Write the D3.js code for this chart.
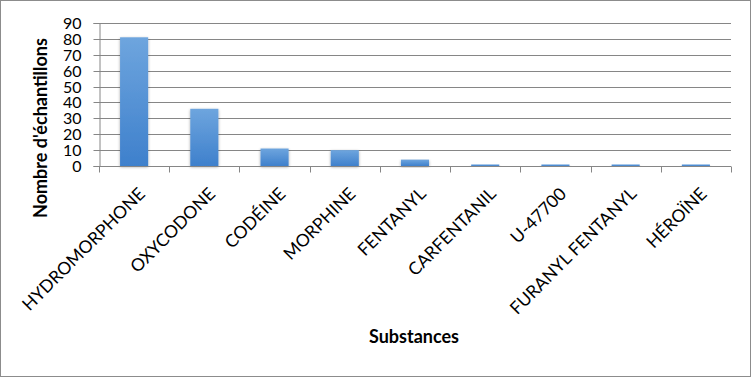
<!DOCTYPE html>
<html><head><meta charset="utf-8">
<script src="https://cdn.jsdelivr.net/npm/d3@7"></script>
<style>
html,body{margin:0;padding:0;background:#fff;}
svg{display:block;font-family:Lato, "Open Sans", sans-serif;}
</style></head>
<body>
<script>
const categories = ["HYDROMORPHONE","OXYCODONE","CODÉINE","MORPHINE","FENTANYL","CARFENTANIL","U-47700","FURANYL FENTANYL","HÉROÏNE"];
const values = [81,36,11,10,4,1,1,1,1];
const yTicks = [0,10,20,30,40,50,60,70,80,90];
const yTitle = "Nombre d'échantillons";
const xTitle = "Substances";

const W = 751, H = 377;
const svg = d3.select("body").append("svg").attr("width",W).attr("height",H);

svg.append("rect").attr("x",0.5).attr("y",0.5).attr("width",W-1).attr("height",H-1)
  .attr("fill","#fff").attr("stroke","#8c8c8c");

const x = d3.scaleBand().domain(categories).range([99,731]).paddingInner(0.6).paddingOuter(0.3);
const y = d3.scaleLinear().domain([0,90]).range([166,23]);

const defs = svg.append("defs");
const g = defs.append("linearGradient").attr("id","bg").attr("x1",0).attr("y1",0).attr("x2",0).attr("y2",1);
g.append("stop").attr("offset","0%").attr("stop-color","#6ea5de");
g.append("stop").attr("offset","100%").attr("stop-color","#3e80cc");
const f = defs.append("filter").attr("id","sh").attr("x","-20%").attr("y","-20%").attr("width","140%").attr("height","140%");
f.append("feGaussianBlur").attr("in","SourceAlpha").attr("stdDeviation",1.5).attr("result","b");
f.append("feOffset").attr("in","b").attr("dx",0).attr("dy",1).attr("result","o");
f.append("feComponentTransfer").attr("in","o").attr("result","o2").append("feFuncA").attr("type","linear").attr("slope",0.35);
const mg = f.append("feMerge"); mg.append("feMergeNode").attr("in","o2"); mg.append("feMergeNode").attr("in","SourceGraphic");

// gridlines
svg.append("g").selectAll("line").data(yTicks.filter(d=>d>0)).join("line")
  .attr("x1",99).attr("x2",731).attr("y1",d=>Math.round(y(d))+0.5).attr("y2",d=>Math.round(y(d))+0.5)
  .attr("stroke","#868686").attr("stroke-width",1);

// y axis
const ya = svg.append("g").attr("transform","translate(99.5,0)")
  .call(d3.axisLeft(y).tickValues(yTicks).tickSize(6).tickPadding(12).tickFormat(d3.format("d")));
ya.select(".domain").attr("stroke","#868686");
ya.selectAll(".tick line").attr("stroke","#868686");
ya.selectAll(".tick text").attr("font-size",16).attr("fill","#000").attr("font-family","Lato, sans-serif").attr("dy","0.36em");
ya.selectAll(".tick").attr("transform",d=>`translate(0,${Math.round(y(d))+0.5})`);

// bars
svg.append("g").selectAll("rect").data(values).join("rect")
  .attr("x",(d,i)=>x(categories[i])).attr("width",x.bandwidth())
  .attr("y",d=>y(d)).attr("height",d=>166-y(d))
  .attr("fill","url(#bg)").attr("filter","url(#sh)");

// x axis
const xa = svg.append("g").attr("transform","translate(0,166.5)")
  .call(d3.axisBottom(x).tickSize(0).tickFormat(""));
xa.select(".domain").attr("stroke","#868686").attr("d","M99,0H731");
const bounds = d3.range(categories.length+1).map(i=>99+i*(632/categories.length));
xa.selectAll(".bt").data(bounds).join("line").attr("class","bt")
  .attr("x1",d=>Math.round(d)+0.5).attr("x2",d=>Math.round(d)+0.5).attr("y1",0).attr("y2",6).attr("stroke","#868686");

svg.append("g").selectAll("text").data(categories).join("text")
  .attr("transform",d=>`translate(${x(d)+x.bandwidth()/2+12},${195}) rotate(-45)`)
  .attr("text-anchor","end").attr("font-size",17.5).attr("fill","#000")
  .text(d=>d);

svg.append("text").attr("transform","translate(47,128) rotate(-90)")
  .attr("text-anchor","middle").attr("font-size",18).attr("font-weight","bold").text(yTitle);
svg.append("text").attr("x",414).attr("y",343).attr("text-anchor","middle")
  .attr("font-size",18).attr("font-weight","bold").text(xTitle);
</script>
</body></html>
